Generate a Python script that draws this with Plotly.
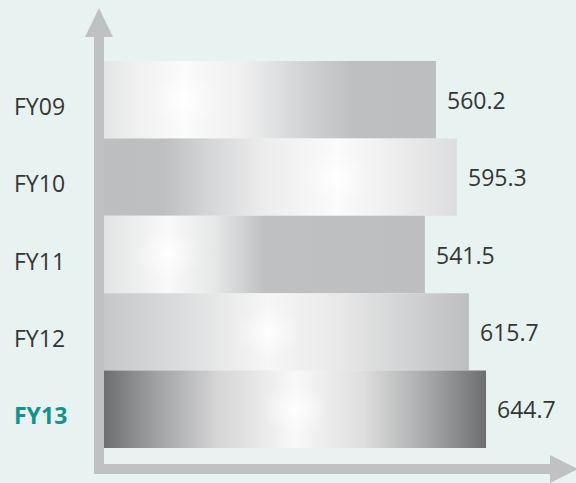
import plotly.graph_objects as go

# ---- data ----
categories = ["FY09", "FY10", "FY11", "FY12", "FY13"]
values = [560.2, 595.3, 541.5, 615.7, 644.7]
value_labels = ["560.2", "595.3", "541.5", "615.7", "644.7"]

# ---- styles ----
W, H = 576, 483
BG = "#e8f3f1"
TEXT = "#353535"
HILITE = "#13918e"
ARROW = "#c0c1c3"

gradients = [
    [[0, "#e4e5e5"], [0.1, "#f0f0f0"], [0.24, "#fbfbfb"], [0.42, "#efefef"],
     [0.5, "#e2e3e4"], [0.62, "#cfd0d2"], [0.75, "#bebfc1"], [1, "#bdbec0"]],
    [[0, "#bdbec0"], [0.17, "#bebfc1"], [0.3, "#d5d6d7"], [0.45, "#ececed"],
     [0.66, "#fbfbfb"], [0.85, "#ebebeb"], [1, "#dcdddf"]],
    [[0, "#e2e3e3"], [0.2, "#f9f9f9"], [0.35, "#e5e6e6"], [0.5, "#bfc0c2"],
     [1, "#bdbec0"]],
    [[0, "#c6c7c9"], [0.2, "#dadbdc"], [0.45, "#f6f6f6"], [0.65, "#e8e8e9"],
     [0.85, "#cfd0d1"], [1, "#bdbec0"]],
    [[0, "#6d6e70"], [0.12, "#9a9b9d"], [0.3, "#d6d6d7"], [0.5, "#f8f8f8"],
     [0.68, "#dedede"], [0.85, "#a6a7a9"], [1, "#6d6e70"]],
]
highlight_pos = [0.24, 0.66, 0.2, 0.45, 0.5]   # relative position of glow spot
GLOW_HALF_PX = 45

# pixel geometry of the plot (full-figure plotting area)
X0_PX = 104          # pixel of value 0
SCALE = 0.5926       # px per unit
TOP_PX, BAR_PX = 61, 77.4
x_range = [-X0_PX / SCALE, (W - X0_PX) / SCALE]
y_range = [4.5 + (H - (TOP_PX + 5 * BAR_PX)) / BAR_PX, -0.5 - TOP_PX / BAR_PX]

fig = go.Figure()

for i, (cat, v, cs) in enumerate(zip(categories, values, gradients)):
    fig.add_trace(go.Scatter(
        x=[0, v, v, 0, 0],
        y=[i - 0.5, i - 0.5, i + 0.5, i + 0.5, i - 0.5],
        mode="lines", fill="toself",
        line=dict(width=0),
        fillgradient=dict(type="horizontal", colorscale=cs),
        hoverinfo="text", text=f"{cat}: {v}",
        showlegend=False,
    ))
    # soft glow spot
    cx = v * highlight_pos[i]
    hw = GLOW_HALF_PX / SCALE
    fig.add_trace(go.Scatter(
        x=[cx - hw, cx + hw, cx + hw, cx - hw, cx - hw],
        y=[i - 0.45, i - 0.45, i + 0.45, i + 0.45, i - 0.45],
        mode="lines", fill="toself",
        line=dict(width=0),
        fillgradient=dict(type="radial", colorscale=[
            [0, "rgba(255,255,255,0.85)"], [0.35, "rgba(255,255,255,0.35)"],
            [0.75, "rgba(255,255,255,0)"], [1, "rgba(255,255,255,0)"]]),
        hoverinfo="skip", showlegend=False,
    ))
    # value label
    fig.add_annotation(x=v, y=i, text=value_labels[i], showarrow=False,
                       xanchor="left", xshift=9,
                       font=dict(family="Open Sans", size=23, color=TEXT))
    # category label
    is_last = i == len(categories) - 1
    fig.add_annotation(xref="paper", x=12 / W, y=i, yshift=-6,
                       text=f"<b>{cat}</b>" if is_last else cat,
                       showarrow=False, xanchor="left",
                       font=dict(family="Open Sans", size=23,
                                 color=HILITE if is_last else TEXT))


def px(x, y):
    return x / W, 1 - y / H


def path(points):
    s = ""
    for k, (x, y) in enumerate(points):
        a, b = px(x, y)
        s += ("M" if k == 0 else "L") + f"{a:.5f},{b:.5f} "
    return s + "Z"


shapes = [
    # vertical arrow shaft + head
    dict(type="path", path=path([(94, 36), (104, 36), (104, 474), (94, 474)])),
    dict(type="path", path=path([(85, 37), (99, 8), (113, 37)])),
    # horizontal arrow shaft + head
    dict(type="path", path=path([(94, 464), (551, 464), (551, 474), (94, 474)])),
    dict(type="path", path=path([(550, 455), (578, 469), (550, 483)])),
]
for s in shapes:
    s.update(xref="paper", yref="paper", fillcolor=ARROW,
             line=dict(width=0), layer="below")

fig.update_layout(
    width=W, height=H,
    margin=dict(l=0, r=0, t=0, b=0),
    paper_bgcolor=BG, plot_bgcolor=BG,
    xaxis=dict(range=x_range, visible=False, fixedrange=True),
    yaxis=dict(range=y_range, visible=False, fixedrange=True),
    shapes=shapes,
    showlegend=False,
)

fig.write_html("out.html")
